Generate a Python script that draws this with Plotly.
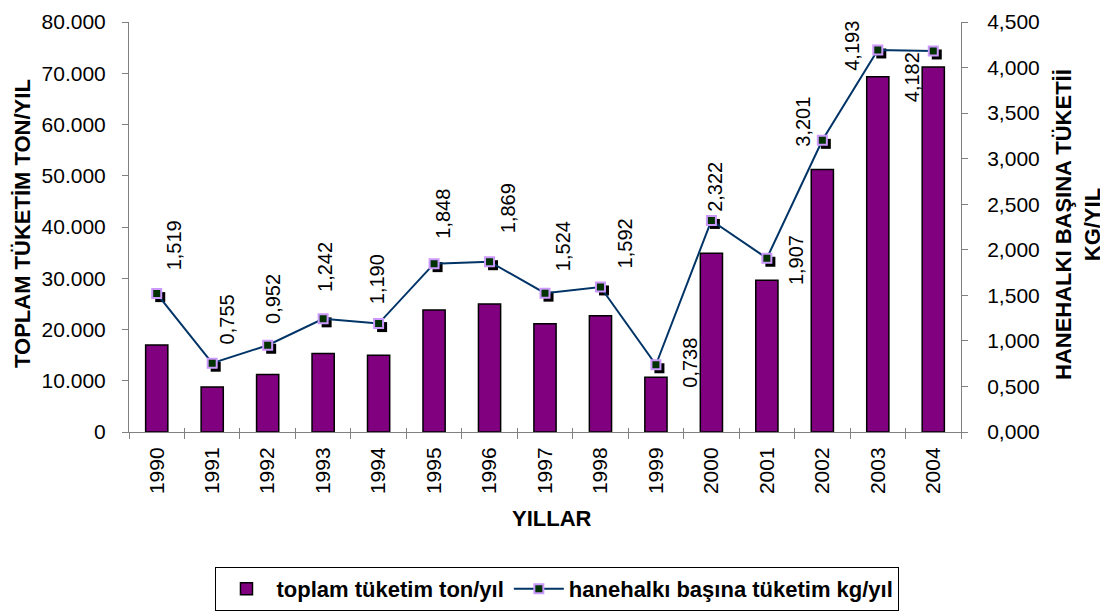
import plotly.graph_objects as go

years = ["1990", "1991", "1992", "1993", "1994", "1995", "1996", "1997",
         "1998", "1999", "2000", "2001", "2002", "2003", "2004"]
total_ton = [17000, 8800, 11200, 15300, 15000, 23800, 25000, 21100,
             22700, 10700, 34900, 29600, 51200, 69300, 71200]
per_house_kg = [1.519, 0.755, 0.952, 1.242, 1.190, 1.848, 1.869, 1.524,
                1.592, 0.738, 2.322, 1.907, 3.201, 4.193, 4.182]

# hand-placed label offsets (px), like in the original sheet
label_dx = [17, 15, 6, 2, -2, 9, 18, 18, 24, 34, 4, 29, -19, -26, -21]
label_dy = [48, 44, 46, 52, 44, 50, 53, 47, 44, 2, 34, -2, 19, 4, -26]

FONT = "Liberation Sans, Arial, sans-serif"
GRAY = "#808080"

# shadow offset of the markers, in axis units (~3.5 px)
sx = 3.5 * 15 / 832
sy = 3.5 * 4.5 / 410

fig = go.Figure()

fig.add_trace(go.Bar(
    x=years, y=total_ton,
    name="toplam tüketim ton/yıl",
    marker=dict(color="#800080", line=dict(color="black", width=1.5)),
    xaxis="x", yaxis="y"))

fig.add_trace(go.Scatter(
    x=years, y=per_house_kg, mode="markers",
    marker=dict(symbol="square", size=10, color="black"),
    showlegend=False, hoverinfo="skip",
    xaxis="x2", yaxis="y2"))

fig.add_trace(go.Scatter(
    x=years, y=per_house_kg, mode="lines+markers",
    name="hanehalkı başına tüketim kg/yıl",
    line=dict(color="#003366", width=2),
    marker=dict(symbol="square", size=9, color="#003300",
                line=dict(color="#CC99FF", width=2)),
    xaxis="x3", yaxis="y3"))

# value labels, x given as category index
for i, (v, dx, dy) in enumerate(zip(per_house_kg, label_dx, label_dy)):
    fig.add_annotation(
        x=i, y=v, xref="x", yref="y3",
        text=f"{v:.3f}".replace(".", ","),
        textangle=-90, showarrow=False,
        xanchor="center", yanchor="middle",
        xshift=dx, yshift=dy,
        font=dict(size=20, color="black", family=FONT))

title_font = dict(size=22, color="black", family=FONT)
fig.add_annotation(
    text="<b>TOPLAM TÜKETİM TON/YIL</b>", xref="paper", yref="paper",
    x=0, y=0.5, xshift=-107, yshift=3, textangle=-90, showarrow=False,
    xanchor="center", yanchor="middle", font=title_font)
fig.add_annotation(
    text="<b>HANEHALKI BAŞINA TÜKETİİ<br>KG/YIL</b>", xref="paper",
    yref="paper", x=1, y=0.5, xshift=117, yshift=2, textangle=-90,
    showarrow=False, xanchor="center", yanchor="middle", font=title_font)
fig.add_annotation(
    text="<b>YILLAR</b>", xref="paper", yref="paper",
    x=0.508, y=0, yshift=-86, showarrow=False,
    xanchor="center", yanchor="middle", font=title_font)

tick_font = dict(size=21, color="black", family=FONT)

# the page puts the figure 8px from the top-left corner
fig.update_layout(
    width=1100, height=605,
    margin=dict(l=121, r=147, t=14, b=181, autoexpand=False),
    paper_bgcolor="white", plot_bgcolor="white",
    separators=",.",
    bargap=0.6,
    font=dict(family=FONT, color="black"),
    xaxis=dict(type="category", range=[-0.5, 14.5], tickson="boundaries",
               ticks="outside", ticklen=6, tickcolor=GRAY, showline=True,
               linecolor=GRAY, tickangle=-90, tickfont=tick_font,
               ticklabelstandoff=6, showgrid=False),
    yaxis=dict(range=[0, 80000], dtick=10000, tickformat=",.0f",
               showline=True, linecolor=GRAY, ticks="outside", ticklen=6,
               tickcolor=GRAY, tickfont=tick_font, showgrid=False,
               zeroline=False, ticklabelstandoff=12,
               ticklabeloverflow="allow"),
    xaxis2=dict(type="category", overlaying="x", visible=False,
                range=[-0.5 - sx, 14.5 - sx]),
    yaxis2=dict(overlaying="y", visible=False, range=[sy, 4.5 + sy]),
    xaxis3=dict(type="category", overlaying="x", anchor="y3",
                range=[-0.5, 14.5], tickson="boundaries", ticks="inside",
                ticklen=4, tickcolor=GRAY, showticklabels=False,
                showline=False, showgrid=False),
    yaxis3=dict(overlaying="y", side="right", anchor="x3", range=[0, 4.5],
                dtick=0.5, tickformat=".3f", showline=True, linecolor=GRAY,
                ticks="outside", ticklen=6, tickcolor=GRAY,
                tickfont=tick_font, showgrid=False, zeroline=False,
                ticklabelstandoff=15, ticklabeloverflow="allow"),
    legend=dict(orientation="h", x=0.515, xanchor="center", y=-0.329,
                yanchor="top", bordercolor="black", borderwidth=1,
                font=dict(size=22, color="black", family=FONT,
                          weight="bold"),
                itemwidth=50),
    showlegend=True,
)

fig.write_html("out.html")
